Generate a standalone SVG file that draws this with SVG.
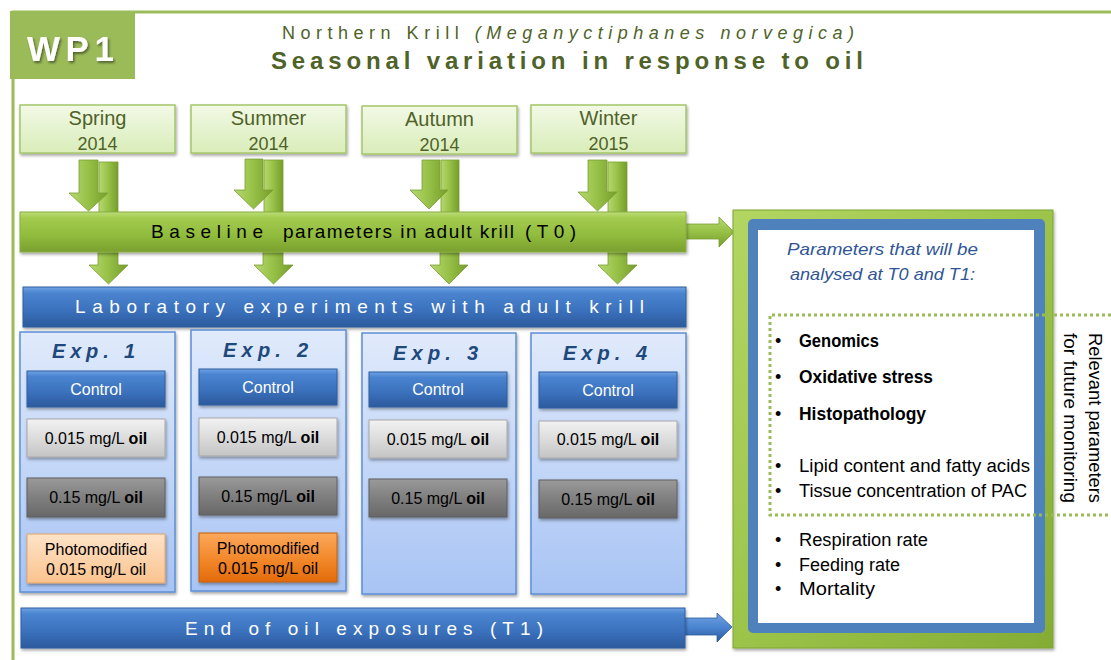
<svg xmlns="http://www.w3.org/2000/svg" width="1111" height="660" viewBox="0 0 1111 660">
<defs>
<style>
text{font-family:"Liberation Sans",Arial,sans-serif}
.season{fill:url(#gSeason);stroke:#A4C66A;stroke-width:1.5}
.st1{font-size:20px;fill:#4F6228;text-anchor:middle}
.st2{font-size:18px;fill:#4F6228;text-anchor:middle}
.gbar{fill:url(#gGreenBar);stroke:#8AAE45;stroke-width:1}
.bbar{fill:url(#gBlueBar);stroke:#2F5E9F;stroke-width:1}
.bartxt{font-size:19px;fill:#fff}
.exp{fill:url(#gExp);stroke:#5C8FD6;stroke-width:1.5}
.explbl{font-size:20px;font-weight:bold;font-style:italic;fill:#1F497D;text-anchor:middle}
.ctl{fill:url(#gBlueBar);stroke:#2F5E9F;stroke-width:1}
.lg{fill:url(#gLightGrey);stroke:#A8A8A8;stroke-width:1}
.dg{fill:url(#gDarkGrey);stroke:#5E5E5E;stroke-width:1}
.lo{fill:url(#gLightOrange);stroke:#E2A468;stroke-width:1}
.or{fill:url(#gOrange);stroke:#C65E0A;stroke-width:1}
.bt{font-size:16px;text-anchor:middle;fill:#000}
.wt{font-size:16px;text-anchor:middle;fill:#fff}
.arr{fill:url(#gArrow);stroke:#7A9E32;stroke-width:0.8}
.barr{fill:url(#gBlueArrow);stroke:#2F5E9F;stroke-width:0.8}
.li{font-size:18px;fill:#000}
.lb{font-size:18px;fill:#000;font-weight:bold}
.rot{font-size:18px;fill:#000;text-anchor:middle}
.dot{fill:none;stroke:#9BBB59;stroke-width:3;stroke-dasharray:3 3}
</style>
<linearGradient id="gSeason" x1="0" y1="0" x2="0" y2="1"><stop offset="0" stop-color="#F2F9E6"/><stop offset="1" stop-color="#D9EDB9"/></linearGradient>
<linearGradient id="gGreenBar" x1="0" y1="0" x2="0" y2="1"><stop offset="0" stop-color="#BDDD78"/><stop offset="0.15" stop-color="#A3CB4F"/><stop offset="0.6" stop-color="#90BB3C"/><stop offset="1" stop-color="#7A9F2F"/></linearGradient>
<linearGradient id="gBlueBar" x1="0" y1="0" x2="0" y2="1"><stop offset="0" stop-color="#6FA2E2"/><stop offset="0.15" stop-color="#4A84D0"/><stop offset="0.6" stop-color="#3A70BC"/><stop offset="1" stop-color="#2C5A9C"/></linearGradient>
<linearGradient id="gExp" x1="0" y1="0" x2="0" y2="1"><stop offset="0" stop-color="#E0EAFB"/><stop offset="1" stop-color="#A8C4F4"/></linearGradient>
<linearGradient id="gLightGrey" x1="0" y1="0" x2="0" y2="1"><stop offset="0" stop-color="#F2F2F2"/><stop offset="0.5" stop-color="#DCDCDC"/><stop offset="1" stop-color="#C4C4C4"/></linearGradient>
<linearGradient id="gDarkGrey" x1="0" y1="0" x2="0" y2="1"><stop offset="0" stop-color="#9A9A9A"/><stop offset="0.5" stop-color="#7F7F7F"/><stop offset="1" stop-color="#686868"/></linearGradient>
<linearGradient id="gLightOrange" x1="0" y1="0" x2="0" y2="1"><stop offset="0" stop-color="#FEE3C8"/><stop offset="1" stop-color="#FBC38E"/></linearGradient>
<linearGradient id="gOrange" x1="0" y1="0" x2="0" y2="1"><stop offset="0" stop-color="#FBA85C"/><stop offset="0.5" stop-color="#F38A2E"/><stop offset="1" stop-color="#E26B0A"/></linearGradient>
<linearGradient id="gArrow" x1="0" y1="0" x2="1" y2="0"><stop offset="0" stop-color="#B6D96F"/><stop offset="0.5" stop-color="#96C046"/><stop offset="1" stop-color="#769D2C"/></linearGradient>
<linearGradient id="gArrowH" x1="0" y1="0" x2="0" y2="1"><stop offset="0" stop-color="#B6D96F"/><stop offset="0.5" stop-color="#96C046"/><stop offset="1" stop-color="#769D2C"/></linearGradient>
<linearGradient id="gBlueArrow" x1="0" y1="0" x2="0" y2="1"><stop offset="0" stop-color="#6FA2E2"/><stop offset="0.5" stop-color="#4A84D0"/><stop offset="1" stop-color="#2C5A9C"/></linearGradient>
<linearGradient id="gPanel" x1="0" y1="0" x2="1" y2="1"><stop offset="0" stop-color="#B3D663"/><stop offset="0.5" stop-color="#9CC44A"/><stop offset="1" stop-color="#84AC35"/></linearGradient>
<filter id="sh" x="-10%" y="-10%" width="125%" height="140%"><feDropShadow dx="1" dy="2" stdDeviation="1.5" flood-color="#000" flood-opacity="0.35"/></filter>
<filter id="tsh" x="-10%" y="-10%" width="130%" height="140%"><feDropShadow dx="1.5" dy="2" stdDeviation="1" flood-color="#000" flood-opacity="0.45"/></filter>
</defs>
<rect width="1111" height="660" fill="#fff"/>

<g id="frame">
<path d="M13,660 V12 H1111" fill="none" stroke="#9BBB59" stroke-width="3"/>
<rect x="10" y="11" width="125" height="68" fill="#9BBB59"/>
<text x="27" y="61" font-size="35" font-weight="bold" fill="#fff" textLength="87" lengthAdjust="spacing" filter="url(#tsh)">WP1</text>
</g>

<g id="title">
<text x="282" y="39" font-size="18" fill="#4F6228" textLength="572" lengthAdjust="spacing">Northern Krill <tspan font-style="italic">(Meganyctiphanes norvegica)</tspan></text>
<text x="271" y="69" font-size="24" font-weight="bold" fill="#4F6228" textLength="592" lengthAdjust="spacing">Seasonal variation in response to oil</text>
</g>

<g id="connectors">
<!-- season to baseline: back shafts -->
<rect class="arr" x="99" y="162" width="19" height="52"/>
<rect class="arr" x="264" y="160" width="19" height="54"/>
<rect class="arr" x="441" y="160" width="18" height="54"/>
<rect class="arr" x="608" y="162" width="19" height="52"/>
<!-- season to baseline: front arrows -->
<path class="arr" d="M79,160 H98 V193 H108 L88.5,211 L69,193 H79 Z"/>
<path class="arr" d="M245,159 H263 V190 H273 L253.5,209 L234,190 H245 Z"/>
<path class="arr" d="M422,160 H440 V190 H448 L429,209 L410,190 H422 Z"/>
<path class="arr" d="M588,160 H607 V192 H617 L597.5,211 L578,192 H588 Z"/>
<!-- baseline to laboratory -->
<path class="arr" d="M98,250 H118 V265 H128 L108.5,284 L89,265 H98 Z"/>
<path class="arr" d="M263,250 H283 V265 H293 L273.5,284 L254,265 H263 Z"/>
<path class="arr" d="M440,250 H459 V265 H468 L449,284 L430,265 H440 Z"/>
<path class="arr" d="M608,250 H627 V265 H637 L617.5,284 L598,265 H608 Z"/>
<!-- baseline to parameters panel -->
<path d="M684,224 H719 V217 L734,232 L719,247 V239 H684 Z" fill="url(#gArrowH)" stroke="#7A9E32" stroke-width="0.8"/>
<!-- end of exposures to parameters panel -->
<path class="barr" d="M684,618 H717 V613 L732,627 L717,642 V635 H684 Z"/>
</g>

<g id="season-spring">
<rect class="season" x="20" y="105" width="155" height="48" filter="url(#sh)"/>
<text class="st1" x="97.5" y="125">Spring</text>
<text class="st2" x="97.5" y="150">2014</text>
</g>
<g id="season-summer">
<rect class="season" x="191" y="105" width="155" height="48" filter="url(#sh)"/>
<text class="st1" x="268.5" y="125">Summer</text>
<text class="st2" x="268.5" y="150">2014</text>
</g>
<g id="season-autumn">
<rect class="season" x="362" y="106" width="155" height="48" filter="url(#sh)"/>
<text class="st1" x="439.5" y="126">Autumn</text>
<text class="st2" x="439.5" y="151">2014</text>
</g>
<g id="season-winter">
<rect class="season" x="531" y="105" width="155" height="48" filter="url(#sh)"/>
<text class="st1" x="608.5" y="125">Winter</text>
<text class="st2" x="608.5" y="150">2015</text>
</g>

<g id="baseline">
<rect class="gbar" x="20" y="212" width="666" height="40" filter="url(#sh)"/>
<text x="151" y="238" font-size="19" fill="#000" textLength="112" lengthAdjust="spacing">Baseline</text>
<text x="283" y="238" font-size="19" fill="#000" textLength="231" lengthAdjust="spacing">parameters in adult krill</text>
<text x="525" y="238" font-size="19" fill="#000" textLength="51" lengthAdjust="spacing">(T0)</text>
</g>

<g id="laboratory">
<rect class="bbar" x="23" y="287" width="663" height="40" filter="url(#sh)"/>
<text class="bartxt" x="75" y="313" textLength="569" lengthAdjust="spacing">Laboratory experiments with adult krill</text>
</g>

<g id="exp1">
<rect class="exp" x="20" y="332" width="155" height="260" filter="url(#sh)"/>
<text class="explbl" x="93.5" y="358" textLength="83" lengthAdjust="spacing">Exp. 1</text>
<rect class="ctl" x="27" y="371" width="138" height="36" filter="url(#sh)"/>
<text class="wt" x="96" y="395">Control</text>
<rect class="lg" x="27" y="419" width="138" height="38" filter="url(#sh)"/>
<text class="bt" x="96" y="444">0.015 mg/L <tspan font-weight="bold">oil</tspan></text>
<rect class="dg" x="27" y="478" width="138" height="39" filter="url(#sh)"/>
<text class="bt" x="96" y="503">0.15 mg/L <tspan font-weight="bold">oil</tspan></text>
<rect class="lo" x="27" y="534" width="138" height="49" filter="url(#sh)"/>
<text class="bt" x="96" y="555">Photomodified</text>
<text class="bt" x="96" y="575">0.015 mg/L oil</text>
</g>

<g id="exp2">
<rect class="exp" x="191" y="330" width="155" height="261" filter="url(#sh)"/>
<text class="explbl" x="265.5" y="357" textLength="85" lengthAdjust="spacing">Exp. 2</text>
<rect class="ctl" x="199" y="369" width="138" height="36" filter="url(#sh)"/>
<text class="wt" x="268" y="393">Control</text>
<rect class="lg" x="199" y="418" width="138" height="38" filter="url(#sh)"/>
<text class="bt" x="268" y="443">0.015 mg/L <tspan font-weight="bold">oil</tspan></text>
<rect class="dg" x="199" y="477" width="138" height="38" filter="url(#sh)"/>
<text class="bt" x="268" y="502">0.15 mg/L <tspan font-weight="bold">oil</tspan></text>
<rect class="or" x="199" y="533" width="138" height="49" filter="url(#sh)"/>
<text class="bt" x="268" y="554">Photomodified</text>
<text class="bt" x="268" y="574">0.015 mg/L oil</text>
</g>

<g id="exp3">
<rect class="exp" x="362" y="333" width="154" height="261" filter="url(#sh)"/>
<text class="explbl" x="435.5" y="360" textLength="85" lengthAdjust="spacing">Exp. 3</text>
<rect class="ctl" x="369" y="372" width="138" height="35" filter="url(#sh)"/>
<text class="wt" x="438" y="395">Control</text>
<rect class="lg" x="369" y="420" width="138" height="38" filter="url(#sh)"/>
<text class="bt" x="438" y="445">0.015 mg/L <tspan font-weight="bold">oil</tspan></text>
<rect class="dg" x="369" y="479" width="138" height="38" filter="url(#sh)"/>
<text class="bt" x="438" y="504">0.15 mg/L <tspan font-weight="bold">oil</tspan></text>
</g>

<g id="exp4">
<rect class="exp" x="531" y="333" width="155" height="261" filter="url(#sh)"/>
<text class="explbl" x="605" y="360" textLength="84" lengthAdjust="spacing">Exp. 4</text>
<rect class="ctl" x="539" y="372" width="138" height="36" filter="url(#sh)"/>
<text class="wt" x="608" y="396">Control</text>
<rect class="lg" x="539" y="421" width="138" height="37" filter="url(#sh)"/>
<text class="bt" x="608" y="445">0.015 mg/L <tspan font-weight="bold">oil</tspan></text>
<rect class="dg" x="539" y="480" width="138" height="38" filter="url(#sh)"/>
<text class="bt" x="608" y="505">0.15 mg/L <tspan font-weight="bold">oil</tspan></text>
</g>

<g id="end-exposures">
<rect class="bbar" x="21" y="608" width="664" height="40" filter="url(#sh)"/>
<text class="bartxt" x="185" y="635" textLength="358" lengthAdjust="spacing">End of oil exposures (T1)</text>
</g>

<g id="parameters">
<rect x="733" y="210" width="320" height="438" fill="url(#gPanel)" stroke="#7FA532" stroke-width="1" filter="url(#sh)"/>
<rect x="748" y="219" width="297" height="414" rx="5" fill="#4F81BD"/>
<rect x="758" y="230" width="276" height="393" fill="#fff"/>
<text x="882.5" y="255" font-size="17" font-style="italic" fill="#2F5597" text-anchor="middle" textLength="191" lengthAdjust="spacingAndGlyphs">Parameters that will be</text>
<text x="882.5" y="280" font-size="17" font-style="italic" fill="#2F5597" text-anchor="middle" textLength="185" lengthAdjust="spacingAndGlyphs">analysed at T0 and T1:</text>
<text class="li" x="775" y="347">•</text><text class="lb" x="799" y="347" textLength="80" lengthAdjust="spacingAndGlyphs">Genomics</text>
<text class="li" x="775" y="383">•</text><text class="lb" x="799" y="383" textLength="134" lengthAdjust="spacingAndGlyphs">Oxidative stress</text>
<text class="li" x="775" y="420">•</text><text class="lb" x="799" y="420" textLength="127" lengthAdjust="spacingAndGlyphs">Histopathology</text>
<text class="li" x="775" y="472">•</text><text class="li" x="799" y="472" textLength="231" lengthAdjust="spacingAndGlyphs">Lipid content and fatty acids</text>
<text class="li" x="775" y="497">•</text><text class="li" x="799" y="497" textLength="228" lengthAdjust="spacingAndGlyphs">Tissue concentration of PAC</text>
<text class="li" x="775" y="546">•</text><text class="li" x="799" y="546" textLength="129" lengthAdjust="spacingAndGlyphs">Respiration rate</text>
<text class="li" x="775" y="571">•</text><text class="li" x="799" y="571" textLength="101" lengthAdjust="spacingAndGlyphs">Feeding rate</text>
<text class="li" x="775" y="595">•</text><text class="li" x="799" y="595" textLength="76" lengthAdjust="spacingAndGlyphs">Mortality</text>
</g>

<g id="monitoring">
<path class="dot" d="M1111,315 H770 V515 H1111"/>
<text class="rot" transform="translate(1089,418) rotate(90)" textLength="170" lengthAdjust="spacingAndGlyphs">Relevant parameters</text>
<text class="rot" transform="translate(1064,418) rotate(90)" textLength="170" lengthAdjust="spacingAndGlyphs">for future monitoring</text>
</g>
</svg>
